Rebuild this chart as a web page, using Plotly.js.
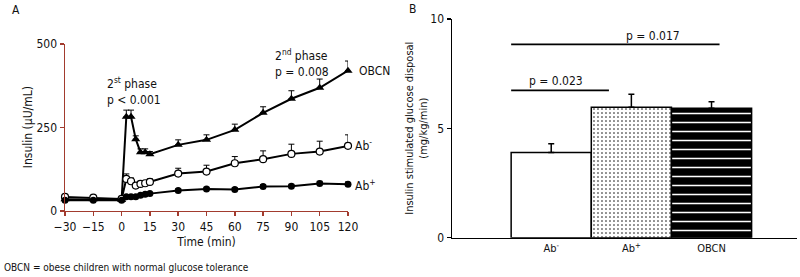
<!DOCTYPE html>
<html><head><meta charset="utf-8">
<script src="https://cdn.plot.ly/plotly-3.0.1.min.js"></script>
<style>body{margin:0;padding:0;background:#fff}#c{width:800px;height:277px}</style>
</head><body><div id="c"></div>
<script>
// Panel A: insulin over time
const timeMin = [-30, -15, 0, 2.5, 5, 7.5, 10, 12.5, 15, 30, 45, 60, 75, 90, 105, 120];
const obcnInsulin = [35, 35, 33, 282, 282, 215, 176, 176, 170, 198, 213, 243, 294, 336, 369, 420];
const obcnErr     = [3, 3, 3, 20, 20, 10, 10, 10, 8, 15, 15, 17, 18, 24, 26, 29];
const abNegInsulin = [42, 40, 36, 96, 89, 76, 81, 83, 87, 112, 118, 143, 155, 171, 178, 195];
const abNegErr     = [3, 3, 3, 15, 10, 8, 8, 8, 9, 16, 19, 20, 25, 29, 31, 33];
const abPosInsulin = [32, 32, 32, 43, 43, 43, 47, 50, 52, 61, 66, 64, 73, 74, 82, 80];
const abPosErr     = [3, 3, 3, 3, 3, 3, 3, 3, 3, 5, 5, 5, 6, 6, 7, 7];
const xTicksA = [-30, -15, 0, 15, 30, 45, 60, 75, 90, 105, 120];
const yTicksA = [0, 250, 500];

// Panel B: glucose disposal
const groupsB = ['Ab<sup>-</sup>', 'Ab<sup>+</sup>', 'OBCN'];
const disposalB = [3.89, 5.96, 5.92];
const disposalErrB = [0.4, 0.6, 0.3];
const yTicksB = [0, 5, 10];

const FONT = '"Liberation Sans Narrow", "DejaVu Sans Condensed", "Roboto", sans-serif';
const RED = '#a23b2e';

function errA(arr){return {type:'data', symmetric:false, array:arr, arrayminus:arr.map(()=>0), width:3, thickness:1, color:'#000'};}

const traces = [
  {x: timeMin, y: obcnInsulin, xaxis:'x', yaxis:'y', mode:'lines+markers', cliponaxis:false,
   line:{color:'#000', width:2}, marker:{symbol:'triangle-up', size:8, color:'#000'}, error_y: errA(obcnErr)},
  {x: timeMin, y: abNegInsulin, xaxis:'x', yaxis:'y', mode:'lines+markers', cliponaxis:false,
   line:{color:'#000', width:2}, marker:{symbol:'circle', size:7, color:'#fff', line:{color:'#000', width:1.2}}, error_y: errA(abNegErr)},
  {x: timeMin, y: abPosInsulin, xaxis:'x', yaxis:'y', mode:'lines+markers', cliponaxis:false,
   line:{color:'#000', width:2}, marker:{symbol:'circle', size:7, color:'#000'}, error_y: errA(abPosErr)},
];

const barColors = ['#fff', '#fff', '#000'];
const patterns = [
  {shape:''},
  {shape:'.', fgcolor:'#000', bgcolor:'#fff', size:4, solidity:0.12},
  {shape:'-', fgcolor:'#fff', bgcolor:'#000', size:9, solidity:0.17}
];
for (let i = 0; i < groupsB.length; i++) {
  traces.push({type:'bar', x:[i], y:[disposalB[i]], xaxis:'x2', yaxis:'y2', width:1,
    marker:{color:barColors[i], pattern:patterns[i], line:{color:'#000', width:1.5}},
    error_y:{type:'data', symmetric:false, array:[disposalErrB[i]], arrayminus:[0], width:3, thickness:1.5, color:'#000'}});
}

const layout = {
  width:800, height:277, showlegend:false,
  margin:{l:0, r:0, t:0, b:0},
  paper_bgcolor:'#fff', plot_bgcolor:'rgba(0,0,0,0)',
  font:{family:FONT, size:12, color:'#111'},
  bargap:0,
  xaxis:{domain:[0.08125, 0.435], range:[-30, 120], tickvals:xTicksA, ticks:'outside', ticklen:4, tickwidth:1.5, tickcolor:RED,
    showline:true, linecolor:RED, linewidth:1.5, showgrid:false, zeroline:false, anchor:'y',
    title:{text:'Time (min)', font:{size:12}, standoff:4}, tickfont:{size:12}},
  yaxis:{domain:[0.2383, 0.8412], range:[0, 500], tickvals:yTicksA, ticks:'outside', ticklen:4, tickwidth:1.5, tickcolor:RED,
    showline:true, linecolor:RED, linewidth:1.5, showgrid:false, zeroline:false, anchor:'x', tickfont:{size:12}},
  xaxis2:{domain:[0.565, 0.996], range:[-1.238, 3.064], tickvals:[0,1,2], ticktext:groupsB, ticks:'', 
    showline:true, linecolor:'#000', linewidth:1.5, showgrid:false, zeroline:false, anchor:'y2', tickfont:{size:11}},
  yaxis2:{domain:[0.1419, 0.9314], range:[0, 10], tickvals:yTicksB, ticks:'outside', ticklen:4, tickwidth:1.5, tickcolor:'#000',
    showline:true, linecolor:'#000', linewidth:1.5, showgrid:false, zeroline:false, anchor:'x2', tickfont:{size:12}},
  shapes:[
    {type:'line', xref:'x2', yref:'y2', x0:-0.5, x1:2.1, y0:8.84, y1:8.84, line:{color:'#000', width:1.8}},
    {type:'line', xref:'x2', yref:'y2', x0:-0.5, x1:0.72, y0:6.74, y1:6.74, line:{color:'#000', width:1.8}}
  ],
  annotations:[
    {text:'A', xref:'paper', yref:'paper', x:0.0125, y:0.964, yanchor:'middle', showarrow:false, font:{size:12}},
    {text:'B', xref:'paper', yref:'paper', x:0.516, y:0.967, yanchor:'middle', showarrow:false, font:{size:12}},
    {text:'Insulin (μU/mL)', xref:'paper', yref:'paper', x:0.036, y:0.54, xanchor:'center', yanchor:'middle', textangle:-90, showarrow:false, font:{size:12}},
    {text:'Insulin stimulated glucose disposal<br>(mg/kg/min)', xref:'paper', yref:'paper', x:0.521, y:0.538, xanchor:'center', yanchor:'middle', textangle:-90, showarrow:false, font:{size:11}},
    {text:'2<sup>st</sup> phase<br>p < 0.001', xref:'x', yref:'y', x:-8.8, y:359, xanchor:'left', align:'left', showarrow:false, font:{size:12}},
    {text:'2<sup>nd</sup> phase<br>p = 0.008', xref:'x', yref:'y', x:80.4, y:443, xanchor:'left', align:'left', showarrow:false, font:{size:12}},
    {text:'OBCN', xref:'paper', yref:'paper', x:0.446, y:0.744, xanchor:'left', yanchor:'middle', showarrow:false, font:{size:12}},
    {text:'Ab<sup>-</sup>', xref:'paper', yref:'paper', x:0.441, y:0.4765, xanchor:'left', yanchor:'middle', showarrow:false, font:{size:12}},
    {text:'Ab<sup>+</sup>', xref:'paper', yref:'paper', x:0.441, y:0.332, xanchor:'left', yanchor:'middle', showarrow:false, font:{size:12}},
    {text:'p = 0.017', xref:'x2', yref:'y2', x:1.27, y:9.22, showarrow:false, font:{size:12}},
    {text:'p = 0.023', xref:'x2', yref:'y2', x:0.06, y:7.17, showarrow:false, font:{size:12}},
    {text:'OBCN = obese children with normal glucose tolerance', xref:'paper', yref:'paper', x:0.0025, y:0.036, xanchor:'left', yanchor:'middle', showarrow:false, font:{size:10}}
  ]
};

Plotly.newPlot('c', traces, layout, {displayModeBar:false, staticPlot:true});
</script>
</body></html>
